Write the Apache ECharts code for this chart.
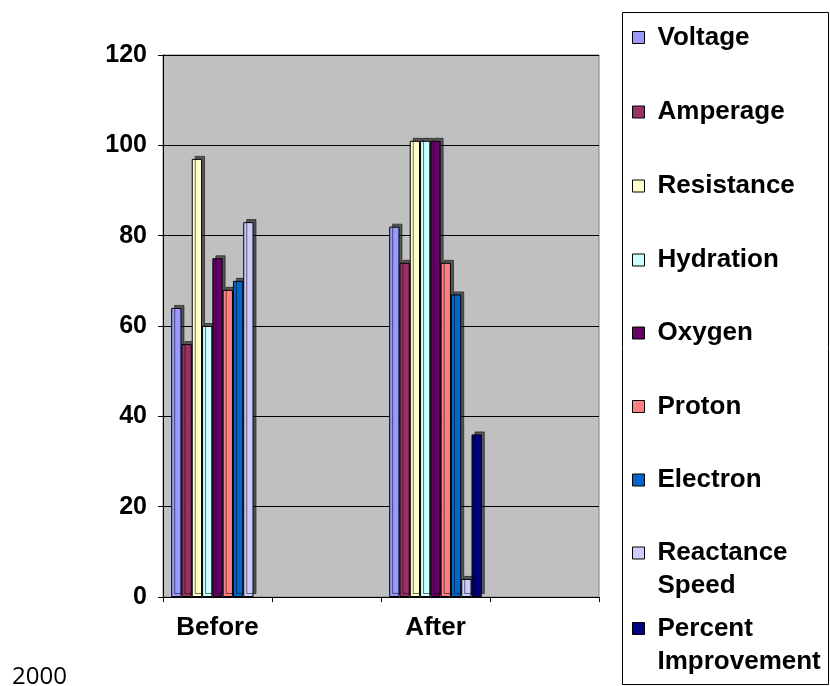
<!DOCTYPE html>
<html>
<head>
<meta charset="utf-8">
<script src="https://cdn.jsdelivr.net/npm/echarts@6/dist/echarts.min.js"></script>
<style>
  html, body { margin: 0; padding: 0; background: #fff; }
  #chart { width: 830px; height: 686px; }
</style>
</head>
<body>
<div id="chart"></div>
<script>
// ---- data ----
const categories = ['Before', '', 'After', ''];
const yTicks = [0, 20, 40, 60, 80, 100, 120];
const seriesNames = ['Voltage', 'Amperage', 'Resistance', 'Hydration', 'Oxygen', 'Proton', 'Electron', 'Reactance\nSpeed', 'Percent\nImprovement'];
const voltage            = [64, null, 82, null];
const amperage           = [56, null, 74, null];
const resistance         = [97, null, 101, null];
const hydration          = [60, null, 101, null];
const oxygen             = [75, null, 101, null];
const proton             = [68, null, 74, null];
const electron           = [70, null, 67, null];
const reactanceSpeed     = [83, null, 4, null];
const percentImprovement = [null, null, 36, null];
const footnote = '2000';

// ---- styles ----
const seriesValues = [voltage, amperage, resistance, hydration, oxygen, proton, electron, reactanceSpeed, percentImprovement];
const colors = ['#9999FF', '#993366', '#FFFFCC', '#CCFFFF', '#660066', '#FF8080', '#0066CC', '#CCCCFF', '#000080'];
const legendCenters = [37.5, 112, 186, 260, 333, 406.5, 480, 553, 628.5];
const FONT = '"Liberation Sans", Arial, sans-serif';

const series = seriesNames.map((name, i) => ({
  name: name,
  type: 'bar',
  data: seriesValues[i],
  barGap: '0%',
  barCategoryGap: '15%',
  itemStyle: {
    color: colors[i], borderColor: '#000', borderWidth: 1,
    shadowColor: 'rgba(0,0,0,0.55)', shadowOffsetX: 3, shadowOffsetY: -3, shadowBlur: 0
  },
  emphasis: { disabled: true }
}));

const legends = seriesNames.map((name, i) => {
  const twoLine = name.indexOf('\n') >= 0;
  return {
    show: true,
    orient: 'vertical',
    left: 632,
    top: legendCenters[i] - 16.5,
    padding: 0,
    itemGap: 0,
    itemWidth: 20,
    itemHeight: twoLine ? 45 : 12,
    selectedMode: false,
    icon: twoLine ? 'path://M0,0h12v12h-12zM20,45' : 'path://M0,0h12v12h-12zM20,12',
    itemStyle: { borderColor: '#000', borderWidth: 1, shadowBlur: 0, shadowOffsetX: 0, shadowOffsetY: 0, shadowColor: 'transparent' },
    textStyle: { fontFamily: FONT, fontSize: 26, fontWeight: 'bold', color: '#000', lineHeight: 33 },
    data: [name]
  };
});

const chart = echarts.init(document.getElementById('chart'), null, { renderer: 'canvas' });
chart.setOption({
  animation: false,
  backgroundColor: '#fff',
  grid: {
    left: 163, right: 231, top: 55, bottom: 89,
    show: true, backgroundColor: '#C0C0C0', borderColor: '#808080', borderWidth: 1,
    containLabel: false
  },
  legend: legends,
  xAxis: {
    type: 'category',
    data: categories,
    boundaryGap: true,
    axisLine: { show: true, lineStyle: { color: '#000', width: 1 } },
    axisTick: { show: true, inside: false, length: 5, alignWithLabel: false, interval: 0, lineStyle: { color: '#000' } },
    axisLabel: { interval: 0, margin: 18, color: '#000', fontFamily: FONT, fontSize: 26, fontWeight: 'bold' },
    splitLine: { show: false }
  },
  yAxis: {
    type: 'value',
    min: yTicks[0],
    max: yTicks[yTicks.length - 1],
    interval: yTicks[1] - yTicks[0],
    axisLine: { show: true, lineStyle: { color: '#000', width: 1 } },
    axisTick: { show: true, inside: false, length: 5, lineStyle: { color: '#000' } },
    axisLabel: { margin: 16, color: '#000', fontFamily: FONT, fontSize: 25, fontWeight: 'bold' },
    splitLine: { show: true, lineStyle: { color: '#000', width: 1 } }
  },
  graphic: [
    {
      type: 'rect',
      shape: { x: 622.5, y: 12.5, width: 206, height: 672 },
      style: { fill: 'none', stroke: '#000', lineWidth: 1 },
      silent: true
    },
    {
      type: 'text',
      style: { x: 12, y: 677, text: footnote, fontFamily: '"Open Sans", sans-serif', fontSize: 24, fill: '#000', verticalAlign: 'middle' },
      silent: true
    }
  ],
  series: series
});
</script>
</body>
</html>
